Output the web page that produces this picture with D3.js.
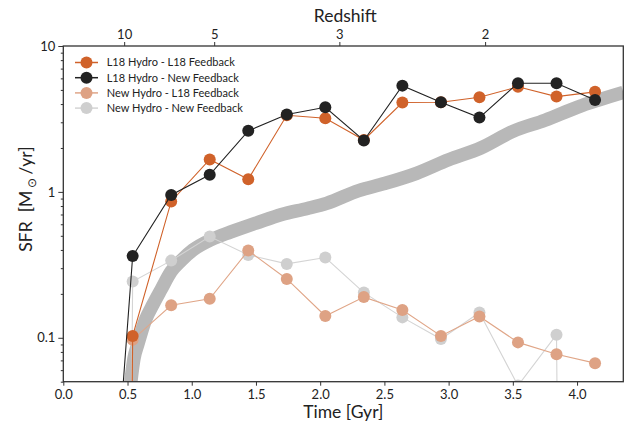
<!DOCTYPE html>
<html>
<head>
<meta charset="utf-8">
<script src="https://cdn.jsdelivr.net/npm/d3@7"></script>
<style>
  body { margin: 0; background: #fff; }
  text { font-family: Lato, "Open Sans", sans-serif; fill: #222; }
</style>
</head>
<body>
<svg id="chart" width="631" height="425"></svg>
<script>
// snapshot times [Gyr]
var times = [0.24, 0.54, 0.84, 1.14, 1.44, 1.74, 2.04, 2.34, 2.64, 2.94, 3.24, 3.54, 3.84, 4.14];

// SFR [Msun/yr] per run (first snapshot ~ no star formation yet)
var sfrL18HydroL18Fb = [1e-30, 0.103, 0.86, 1.67, 1.22, 3.35, 3.2, 2.27, 4.1, 4.12, 4.45, 5.25, 4.5, 4.85];
var sfrL18HydroNewFb = [1e-4, 0.363, 0.953, 1.31, 2.62, 3.39, 3.8, 2.25, 5.35, 4.12, 3.23, 5.56, 5.56, 4.27];
var sfrNewHydroL18Fb = [1e-30, 0.097, 0.167, 0.185, 0.396, 0.253, 0.141, 0.19, 0.155, 0.103, 0.14, 0.093, 0.077, 0.067];
var sfrNewHydroNewFb = [1e-30, 0.243, 0.338, 0.494, 0.37, 0.321, 0.355, 0.204, 0.138, 0.098, 0.149, 0.047, 0.105, 1e-30];

// reference SFR band
var bandTimes = [0.52, 0.55, 0.58, 0.64, 0.70, 0.76, 0.84, 0.92, 1.01, 1.15, 1.30, 1.50, 1.70, 1.90, 2.05, 2.30, 2.50, 2.75, 3.00, 3.25, 3.50, 3.75, 4.00, 4.36];
var bandSfr = [0.045, 0.072, 0.09, 0.133, 0.17, 0.213, 0.285, 0.34, 0.40, 0.47, 0.53, 0.61, 0.70, 0.77, 0.835, 1.02, 1.14, 1.34, 1.66, 2.0, 2.6, 3.1, 3.8, 4.8];

var redshiftTicks = [10, 5, 3, 2];
var timeTicks = [0, 0.5, 1, 1.5, 2, 2.5, 3, 3.5, 4];

var series = [
    {name: "L18 Hydro - L18 Feedback", values: sfrL18HydroL18Fb, color: "#d0622a"},
    {name: "L18 Hydro - New Feedback", values: sfrL18HydroNewFb, color: "#222222"},
    {name: "New Hydro - L18 Feedback", values: sfrNewHydroL18Fb, color: "#dea284", line: "#e0a688"},
    {name: "New Hydro - New Feedback", values: sfrNewHydroNewFb, color: "#cfcfcf", line: "#d4d4d4"}
];
// drawing order (bottom to top)
var drawOrder = [3, 2, 0, 1];

// flat LCDM age of the universe at redshift z, in Gyr
var H0 = 67.7, Om = 0.31, OL = 1 - Om;
function ageAt(z) {
    var hubbleTime = 977.8 / H0;
    return 2 / (3 * Math.sqrt(OL)) * hubbleTime * Math.asinh(Math.sqrt(OL / Om) * Math.pow(1 + z, -1.5));
}

var svg = d3.select("#chart");
var margin = {left: 63.3, right: 7.7, top: 46, bottom: 43.3},
    width = 631 - margin.left - margin.right,
    height = 425 - margin.top - margin.bottom;

var x = d3.scaleLinear().domain([0, 4.36]).range([0, width]);
var y = d3.scaleLog().domain([0.05, 10]).range([height, 0]);

var g = svg.append("g").attr("transform", "translate(" + margin.left + "," + margin.top + ")");

g.append("clipPath").attr("id", "plotclip")
    .append("rect").attr("width", width).attr("height", height);

var plot = g.append("g").attr("clip-path", "url(#plotclip)");

// band
var bandLine = d3.line()
    .x(function (d, i) { return x(bandTimes[i]); })
    .y(function (d) { return y(d); })
    .curve(d3.curveMonotoneX);
plot.append("path")
    .datum(bandSfr)
    .attr("d", bandLine)
    .attr("fill", "none")
    .attr("stroke", "#b8b8b8")
    .attr("stroke-width", 13.5);

var line = d3.line()
    .x(function (d, i) { return x(times[i]); })
    .y(function (d) { return y(d); });

drawOrder.forEach(function (k) {
    var s = series[k];
    plot.append("path")
        .datum(s.values)
        .attr("d", line)
        .attr("fill", "none")
        .attr("stroke", s.line || s.color)
        .attr("stroke-width", 1.1);
    plot.selectAll(".pt" + k)
        .data(s.values)
        .enter()
        .append("circle")
        .attr("cx", function (d, i) { return x(times[i]); })
        .attr("cy", function (d) { return y(d); })
        .attr("r", 6)
        .attr("fill", s.color);
});

// axes
var yMajor = [0.1, 1, 10];
var yMinor = [];
[0.01, 0.1, 1].forEach(function (dec) {
    for (var m = 2; m <= 9; m++) {
        var v = dec * m;
        if (v >= 0.05 && v <= 10) yMinor.push(v);
    }
});

var xAxis = d3.axisBottom(x).tickValues(timeTicks).tickSize(4).tickPadding(4)
    .tickFormat(d3.format(".1f"));
var gx = g.append("g").attr("transform", "translate(0," + height + ")").call(xAxis);

var gyMinor = g.append("g").call(d3.axisLeft(y).tickValues(yMinor).tickSize(2.5).tickFormat(""));
var gy = g.append("g").call(d3.axisLeft(y).tickValues(yMajor).tickSize(5).tickPadding(3)
    .tickFormat(function (d) { return d >= 1 ? d3.format("d")(d) : d; }));

var zAxis = d3.axisTop(x).tickValues(redshiftTicks.map(ageAt)).tickSize(4).tickPadding(3)
    .tickFormat(function (d, i) { return redshiftTicks[i]; });
var gt = g.append("g").call(zAxis);

[gx, gy, gyMinor, gt].forEach(function (a) {
    a.select(".domain").remove();
    a.selectAll(".tick line").attr("stroke", "#333").attr("stroke-width", 1);
    a.selectAll(".tick text").attr("font-size", 13).attr("fill", "#222")
        .style("font-family", "Lato, sans-serif");
});

// frame
g.append("rect")
    .attr("width", width).attr("height", height)
    .attr("fill", "none").attr("stroke", "#333").attr("stroke-width", 1.3);

// titles
svg.append("text")
    .attr("x", margin.left + width / 2).attr("y", 418)
    .attr("text-anchor", "middle").attr("font-size", 17.5)
    .text("Time [Gyr]");

svg.append("text")
    .attr("x", margin.left + width / 2 + 2).attr("y", 22)
    .attr("text-anchor", "middle").attr("font-size", 17.5)
    .text("Redshift");

var ylab = svg.append("text")
    .attr("transform", "translate(32,199) rotate(-90)")
    .attr("text-anchor", "middle").attr("font-size", 17.5)
    .attr("xml:space", "preserve");
ylab.append("tspan").text("SFR  [M");
ylab.append("tspan").attr("dy", 4).attr("font-size", 12).text(" \u2299 ");
ylab.append("tspan").attr("dy", -4).text("/yr]");

// legend
var legend = svg.append("g").attr("transform", "translate(75,62.5)");
series.forEach(function (s, i) {
    var row = legend.append("g").attr("transform", "translate(0," + (i * 15.2) + ")");
    row.append("line")
        .attr("x1", 0).attr("x2", 23)
        .attr("stroke", s.line || s.color).attr("stroke-width", 1.5);
    row.append("circle").attr("cx", 11.5).attr("r", 6).attr("fill", s.color);
    row.append("text")
        .attr("x", 31.7).attr("dy", "0.35em")
        .attr("font-size", 11)
        .text(s.name);
});
</script>
</body>
</html>
